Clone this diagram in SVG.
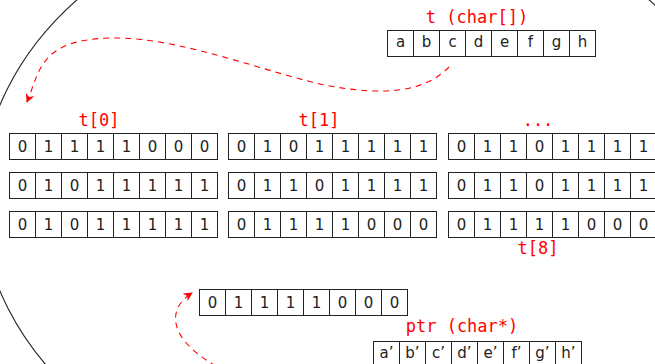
<svg xmlns="http://www.w3.org/2000/svg" width="655" height="364" viewBox="0 0 655 364">
<style>
.c{fill:#fff;stroke:#222;stroke-width:1}
.v{font-family:"DejaVu Sans",sans-serif;font-size:15px;fill:#222;text-anchor:middle}
.l{font-family:"DejaVu Sans Mono",monospace;font-size:17px;fill:#ff0000;text-anchor:middle}
.d{fill:none;stroke:#ff0000;stroke-width:1.1;stroke-dasharray:6 5}
</style>
<defs>
<marker id="ah" viewBox="0 0 10 10" refX="9" refY="5" markerWidth="9" markerHeight="9" markerUnits="userSpaceOnUse" orient="auto">
<path d="M0,0 L10,5 L0,10 L3,5 Z" fill="#ff0000"/>
</marker>
</defs>
<rect width="655" height="364" fill="#fff"/>
<ellipse id="scope" cx="363" cy="198" rx="382" ry="299" fill="none" stroke="#222" stroke-width="1.1"/>

<g id="t_chars">
<text class="l" x="477" y="23">t (char[])</text>
<rect class="c" x="387.5" y="30.5" width="26" height="26"/><rect class="c" x="413.5" y="30.5" width="26" height="26"/><rect class="c" x="439.5" y="30.5" width="26" height="26"/><rect class="c" x="465.5" y="30.5" width="26" height="26"/><rect class="c" x="491.5" y="30.5" width="26" height="26"/><rect class="c" x="517.5" y="30.5" width="26" height="26"/><rect class="c" x="543.5" y="30.5" width="26" height="26"/><rect class="c" x="569.5" y="30.5" width="26" height="26"/>
<text class="v" y="47"><tspan x="400.5">a</tspan><tspan x="426.5">b</tspan><tspan x="452.5">c</tspan><tspan x="478.5">d</tspan><tspan x="504.5">e</tspan><tspan x="530.5">f</tspan><tspan x="556.5">g</tspan><tspan x="582.5">h</tspan></text>
</g>

<g id="t0">
<text class="l" x="99" y="126">t[0]</text>
<rect class="c" x="9.5" y="133.5" width="26" height="26"/><rect class="c" x="35.5" y="133.5" width="26" height="26"/><rect class="c" x="61.5" y="133.5" width="26" height="26"/><rect class="c" x="87.5" y="133.5" width="26" height="26"/><rect class="c" x="113.5" y="133.5" width="26" height="26"/><rect class="c" x="139.5" y="133.5" width="26" height="26"/><rect class="c" x="165.5" y="133.5" width="26" height="26"/><rect class="c" x="191.5" y="133.5" width="26" height="26"/>
<text class="v" y="152"><tspan x="22.5">0</tspan><tspan x="48.5">1</tspan><tspan x="74.5">1</tspan><tspan x="100.5">1</tspan><tspan x="126.5">1</tspan><tspan x="152.5">0</tspan><tspan x="178.5">0</tspan><tspan x="204.5">0</tspan></text>
<rect class="c" x="9.5" y="172.5" width="26" height="26"/><rect class="c" x="35.5" y="172.5" width="26" height="26"/><rect class="c" x="61.5" y="172.5" width="26" height="26"/><rect class="c" x="87.5" y="172.5" width="26" height="26"/><rect class="c" x="113.5" y="172.5" width="26" height="26"/><rect class="c" x="139.5" y="172.5" width="26" height="26"/><rect class="c" x="165.5" y="172.5" width="26" height="26"/><rect class="c" x="191.5" y="172.5" width="26" height="26"/>
<text class="v" y="191"><tspan x="22.5">0</tspan><tspan x="48.5">1</tspan><tspan x="74.5">0</tspan><tspan x="100.5">1</tspan><tspan x="126.5">1</tspan><tspan x="152.5">1</tspan><tspan x="178.5">1</tspan><tspan x="204.5">1</tspan></text>
<rect class="c" x="9.5" y="211.5" width="26" height="26"/><rect class="c" x="35.5" y="211.5" width="26" height="26"/><rect class="c" x="61.5" y="211.5" width="26" height="26"/><rect class="c" x="87.5" y="211.5" width="26" height="26"/><rect class="c" x="113.5" y="211.5" width="26" height="26"/><rect class="c" x="139.5" y="211.5" width="26" height="26"/><rect class="c" x="165.5" y="211.5" width="26" height="26"/><rect class="c" x="191.5" y="211.5" width="26" height="26"/>
<text class="v" y="230"><tspan x="22.5">0</tspan><tspan x="48.5">1</tspan><tspan x="74.5">0</tspan><tspan x="100.5">1</tspan><tspan x="126.5">1</tspan><tspan x="152.5">1</tspan><tspan x="178.5">1</tspan><tspan x="204.5">1</tspan></text>
</g>

<g id="t1">
<text class="l" x="319" y="126">t[1]</text>
<rect class="c" x="228.5" y="133.5" width="26" height="26"/><rect class="c" x="254.5" y="133.5" width="26" height="26"/><rect class="c" x="280.5" y="133.5" width="26" height="26"/><rect class="c" x="306.5" y="133.5" width="26" height="26"/><rect class="c" x="332.5" y="133.5" width="26" height="26"/><rect class="c" x="358.5" y="133.5" width="26" height="26"/><rect class="c" x="384.5" y="133.5" width="26" height="26"/><rect class="c" x="410.5" y="133.5" width="26" height="26"/>
<text class="v" y="152"><tspan x="241.5">0</tspan><tspan x="267.5">1</tspan><tspan x="293.5">0</tspan><tspan x="319.5">1</tspan><tspan x="345.5">1</tspan><tspan x="371.5">1</tspan><tspan x="397.5">1</tspan><tspan x="423.5">1</tspan></text>
<rect class="c" x="228.5" y="172.5" width="26" height="26"/><rect class="c" x="254.5" y="172.5" width="26" height="26"/><rect class="c" x="280.5" y="172.5" width="26" height="26"/><rect class="c" x="306.5" y="172.5" width="26" height="26"/><rect class="c" x="332.5" y="172.5" width="26" height="26"/><rect class="c" x="358.5" y="172.5" width="26" height="26"/><rect class="c" x="384.5" y="172.5" width="26" height="26"/><rect class="c" x="410.5" y="172.5" width="26" height="26"/>
<text class="v" y="191"><tspan x="241.5">0</tspan><tspan x="267.5">1</tspan><tspan x="293.5">1</tspan><tspan x="319.5">0</tspan><tspan x="345.5">1</tspan><tspan x="371.5">1</tspan><tspan x="397.5">1</tspan><tspan x="423.5">1</tspan></text>
<rect class="c" x="228.5" y="211.5" width="26" height="26"/><rect class="c" x="254.5" y="211.5" width="26" height="26"/><rect class="c" x="280.5" y="211.5" width="26" height="26"/><rect class="c" x="306.5" y="211.5" width="26" height="26"/><rect class="c" x="332.5" y="211.5" width="26" height="26"/><rect class="c" x="358.5" y="211.5" width="26" height="26"/><rect class="c" x="384.5" y="211.5" width="26" height="26"/><rect class="c" x="410.5" y="211.5" width="26" height="26"/>
<text class="v" y="230"><tspan x="241.5">0</tspan><tspan x="267.5">1</tspan><tspan x="293.5">1</tspan><tspan x="319.5">1</tspan><tspan x="345.5">1</tspan><tspan x="371.5">0</tspan><tspan x="397.5">0</tspan><tspan x="423.5">0</tspan></text>
</g>

<g id="t8">
<text class="l" x="538" y="126">...</text>
<rect class="c" x="448.5" y="133.5" width="26" height="26"/><rect class="c" x="474.5" y="133.5" width="26" height="26"/><rect class="c" x="500.5" y="133.5" width="26" height="26"/><rect class="c" x="526.5" y="133.5" width="26" height="26"/><rect class="c" x="552.5" y="133.5" width="26" height="26"/><rect class="c" x="578.5" y="133.5" width="26" height="26"/><rect class="c" x="604.5" y="133.5" width="26" height="26"/><rect class="c" x="630.5" y="133.5" width="26" height="26"/>
<text class="v" y="152"><tspan x="461.5">0</tspan><tspan x="487.5">1</tspan><tspan x="513.5">1</tspan><tspan x="539.5">0</tspan><tspan x="565.5">1</tspan><tspan x="591.5">1</tspan><tspan x="617.5">1</tspan><tspan x="643.5">1</tspan></text>
<rect class="c" x="448.5" y="172.5" width="26" height="26"/><rect class="c" x="474.5" y="172.5" width="26" height="26"/><rect class="c" x="500.5" y="172.5" width="26" height="26"/><rect class="c" x="526.5" y="172.5" width="26" height="26"/><rect class="c" x="552.5" y="172.5" width="26" height="26"/><rect class="c" x="578.5" y="172.5" width="26" height="26"/><rect class="c" x="604.5" y="172.5" width="26" height="26"/><rect class="c" x="630.5" y="172.5" width="26" height="26"/>
<text class="v" y="191"><tspan x="461.5">0</tspan><tspan x="487.5">1</tspan><tspan x="513.5">1</tspan><tspan x="539.5">0</tspan><tspan x="565.5">1</tspan><tspan x="591.5">1</tspan><tspan x="617.5">1</tspan><tspan x="643.5">1</tspan></text>
<rect class="c" x="448.5" y="211.5" width="26" height="26"/><rect class="c" x="474.5" y="211.5" width="26" height="26"/><rect class="c" x="500.5" y="211.5" width="26" height="26"/><rect class="c" x="526.5" y="211.5" width="26" height="26"/><rect class="c" x="552.5" y="211.5" width="26" height="26"/><rect class="c" x="578.5" y="211.5" width="26" height="26"/><rect class="c" x="604.5" y="211.5" width="26" height="26"/><rect class="c" x="630.5" y="211.5" width="26" height="26"/>
<text class="v" y="230"><tspan x="461.5">0</tspan><tspan x="487.5">1</tspan><tspan x="513.5">1</tspan><tspan x="539.5">1</tspan><tspan x="565.5">1</tspan><tspan x="591.5">0</tspan><tspan x="617.5">0</tspan><tspan x="643.5">0</tspan></text>
<text class="l" x="538" y="254">t[8]</text>
</g>

<g id="byte">
<rect class="c" x="199.5" y="289.5" width="26" height="26"/><rect class="c" x="225.5" y="289.5" width="26" height="26"/><rect class="c" x="251.5" y="289.5" width="26" height="26"/><rect class="c" x="277.5" y="289.5" width="26" height="26"/><rect class="c" x="303.5" y="289.5" width="26" height="26"/><rect class="c" x="329.5" y="289.5" width="26" height="26"/><rect class="c" x="355.5" y="289.5" width="26" height="26"/><rect class="c" x="381.5" y="289.5" width="26" height="26"/>
<text class="v" y="308"><tspan x="212.5">0</tspan><tspan x="238.5">1</tspan><tspan x="264.5">1</tspan><tspan x="290.5">1</tspan><tspan x="316.5">1</tspan><tspan x="342.5">0</tspan><tspan x="368.5">0</tspan><tspan x="394.5">0</tspan></text>
</g>

<g id="ptr">
<text class="l" x="462" y="332">ptr (char*)</text>
<rect class="c" x="373.5" y="341.5" width="26" height="26"/><rect class="c" x="399.5" y="341.5" width="26" height="26"/><rect class="c" x="425.5" y="341.5" width="26" height="26"/><rect class="c" x="451.5" y="341.5" width="26" height="26"/><rect class="c" x="477.5" y="341.5" width="26" height="26"/><rect class="c" x="503.5" y="341.5" width="26" height="26"/><rect class="c" x="529.5" y="341.5" width="26" height="26"/><rect class="c" x="555.5" y="341.5" width="26" height="26"/>
<text class="v" y="358"><tspan x="386.5">a’</tspan><tspan x="412.5">b’</tspan><tspan x="438.5">c’</tspan><tspan x="464.5">d’</tspan><tspan x="490.5">e’</tspan><tspan x="516.5">f’</tspan><tspan x="542.5">g’</tspan><tspan x="568.5">h’</tspan></text>
</g>

<g id="connectors">
<path class="d" marker-end="url(#ah)" d="M449 67 C425 92 385 96 330 86 S180 36 110 38 S40 70 27 102"/>
<path class="d" marker-end="url(#ah)" d="M216 366 C170 340 165 310 192 293"/>
</g>
</svg>
